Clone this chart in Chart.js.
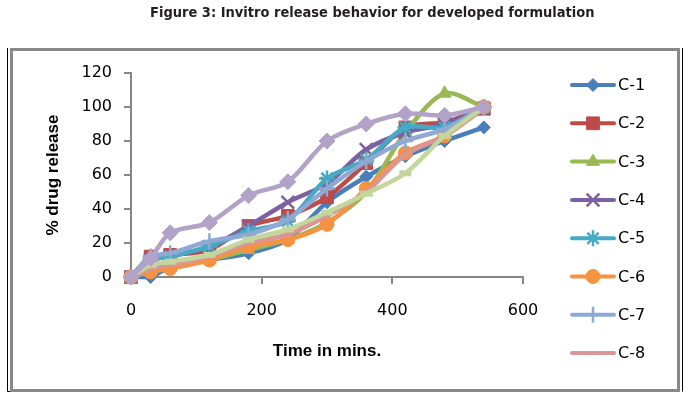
<!DOCTYPE html>
<html lang="en">
<head>
<meta charset="UTF-8">
<title>Invitro release behavior</title>
<script src="https://cdn.jsdelivr.net/npm/chart.js"></script>
<style>
    body {
        margin: 0;
        background: #fff;
    }

    #wrap {
        position: relative;
        width: 693px;
        height: 399px;
    }

    #chartTitle {
        position: absolute;
        top: 4px;
        left: 150px;
        width: 442px;
        text-align: center;
        white-space: nowrap;
        font: bold 14.5px "DejaVu Sans Condensed", "DejaVu Sans", sans-serif;
        color: #231f20;
    }
</style>
</head>
<body>
<div id="wrap">
    <div id="chartTitle">Figure 3: Invitro release behavior for developed formulation</div>
    <canvas id="releaseChart" width="693" height="399"></canvas>
</div>
<script>
    // time points (mins)
    const times = [0, 30, 60, 120, 180, 240, 300, 360, 420, 480, 540];

    const seriesNames = ['C-1', 'C-2', 'C-3', 'C-4', 'C-5', 'C-6', 'C-7', 'C-8', 'C-9', 'C-10'];

    // % drug release per formulation
    const c1 = [0, 0, 6, 10, 14, 22, 44, 59, 71, 80, 88];
    const c2 = [0, 12, 13, 16, 30, 36, 47, 67, 88, 91, 99];
    const c3 = [0, 5, 6, 10, 16, 22, 32, 50, 85, 108, 100];
    const c4 = [0, 10, 12, 18, 30, 44, 55, 75, 85, 90, 99];
    const c5 = [0, 10, 12, 18, 27, 33, 58, 69, 88, 88, 100];
    const c6 = [0, 3, 5, 10, 18, 22, 31, 52, 73, 83, 100];
    const c7 = [0, 12, 14, 21, 25, 34, 52, 68, 80, 87, 100];
    const c8 = [0, 5, 7, 12, 20, 25, 36, 50, 72, 83, 99];
    const c9 = [0, 7, 9, 13, 22, 28, 38, 49, 61, 83, 100];
    const c10 = [0, 11, 26, 32, 48, 56, 80, 90, 96, 95, 100];

    const xTicks = [0, 200, 400, 600];
    const yTicks = [0, 20, 40, 60, 80, 100, 120];

    const seriesValues = [c1, c2, c3, c4, c5, c6, c7, c8, c9, c10];

    // styling
    const colors = ['#4a7ebb', '#be4b48', '#98b954', '#7d60a0', '#46aac5',
        '#f69240', '#8ea9d3', '#d99694', '#c3d69b', '#b3a2c7'];
    const markers = ['rectRot', 'rect', 'triangle', 'crossRot', 'star',
        'circle', 'cross', 'line', 'line', 'rectRot'];
    const markerSizes = [6.5, 9, 7.5, 9, 8, 7, 8, 4, 6, 8];
    const markerBorders = [1, 1, 1, 2.5, 2.5, 1, 2.5, 4, 6, 1];
    const legendCount = 8; // legend in the figure only shows C-1 .. C-8

    const axisGray = '#868686';

    const datasets = seriesNames.map((name, i) => ({
        label: name,
        data: seriesValues[i].map((v, j) => ({ x: times[j], y: v })),
        borderColor: colors[i],
        backgroundColor: colors[i],
        pointBackgroundColor: colors[i],
        pointBorderColor: colors[i],
        pointStyle: markers[i],
        pointRadius: markerSizes[i],
        pointHoverRadius: markerSizes[i],
        pointBorderWidth: markerBorders[i],
        borderWidth: 4.5,
        tension: 0.3,
        order: seriesNames.length - i,
        clip: false
    }));

    // outer frame of the figure
    const framePlugin = {
        id: 'frame',
        beforeDraw(chart) {
            const ctx = chart.ctx;
            ctx.save();
            ctx.fillStyle = '#fff';
            ctx.fillRect(0, 0, chart.width, chart.height);
            ctx.strokeStyle = '#888';
            ctx.lineWidth = 3;
            ctx.strokeRect(11.5, 49.5, 667, 341);
            ctx.strokeStyle = '#000';
            ctx.lineWidth = 1;
            ctx.beginPath();
            ctx.moveTo(7.5, 48);
            ctx.lineTo(7.5, 391.5);
            ctx.lineTo(10, 391.5);
            ctx.moveTo(682.5, 48);
            ctx.lineTo(682.5, 391.5);
            ctx.stroke();
            ctx.restore();
        }
    };

    // legend on the right: line sample with marker, then name
    const sideLegend = {
        id: 'sideLegend',
        afterDraw(chart) {
            const ctx = chart.ctx;
            ctx.save();
            for (let i = 0; i < legendCount; i++) {
                const ds = chart.data.datasets[i];
                const y = 85 + i * 38.3;
                ctx.strokeStyle = ds.borderColor;
                ctx.fillStyle = ds.borderColor;
                ctx.lineWidth = 4;
                ctx.lineCap = 'round';
                ctx.beginPath();
                ctx.moveTo(572, y);
                ctx.lineTo(614, y);
                ctx.stroke();
                ctx.lineCap = 'butt';
                ctx.lineWidth = ds.pointBorderWidth;
                Chart.helpers.drawPoint(ctx, {
                    pointStyle: ds.pointStyle,
                    radius: ds.pointRadius,
                    rotation: 0,
                    borderWidth: ds.pointBorderWidth
                }, 593, y);
                ctx.fillStyle = '#000';
                ctx.font = '16px "DejaVu Sans"';
                ctx.textAlign = 'left';
                ctx.textBaseline = 'middle';
                ctx.fillText(ds.label, 618, y + 1);
            }
            ctx.restore();
        }
    };

    const tickFont = { family: 'DejaVu Sans', size: 16 };
    const titleFont = { family: 'Liberation Sans', size: 17, weight: 'bold' };

    new Chart(document.getElementById('releaseChart'), {
        type: 'line',
        data: { datasets: datasets },
        options: {
            responsive: false,
            animation: false,
            devicePixelRatio: 1,
            layout: {
                padding: { left: 13, right: 170, top: 73, bottom: 7 }
            },
            plugins: {
                legend: { display: false },
                tooltip: { enabled: false }
            },
            scales: {
                x: {
                    type: 'linear',
                    min: xTicks[0],
                    max: xTicks[xTicks.length - 1],
                    afterBuildTicks: s => { s.ticks = xTicks.map(v => ({ value: v })); },
                    afterFit: s => { s.height = 115; },
                    ticks: { font: tickFont, color: '#000', padding: 17, maxRotation: 0 },
                    grid: { drawOnChartArea: false, tickLength: 7, color: axisGray, lineWidth: 2 },
                    border: { color: axisGray, width: 2 },
                    title: {
                        display: true, text: 'Time in mins.', font: titleFont, color: '#000',
                        padding: { top: 30, bottom: 30 }
                    }
                },
                y: {
                    min: yTicks[0],
                    max: yTicks[yTicks.length - 1],
                    afterBuildTicks: s => { s.ticks = yTicks.map(v => ({ value: v })); },
                    afterFit: s => { s.width = 118; },
                    ticks: { font: tickFont, color: '#000', padding: 12 },
                    grid: { drawOnChartArea: false, tickLength: 7, color: axisGray, lineWidth: 2 },
                    border: { color: axisGray, width: 2 },
                    title: {
                        display: true, text: '% drug release', font: titleFont, color: '#000',
                        padding: { top: 30, bottom: 30 }
                    }
                }
            }
        },
        plugins: [framePlugin, sideLegend]
    });
</script>
</body>
</html>
